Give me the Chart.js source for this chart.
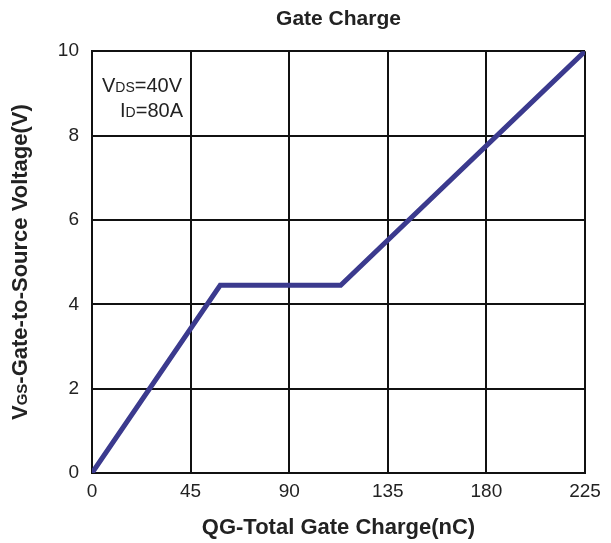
<!DOCTYPE html>
<html><head><meta charset="utf-8">
<script src="https://cdn.jsdelivr.net/npm/chart.js@4/dist/chart.umd.min.js"></script>
<style>html,body{margin:0;padding:0;background:#fff}#wrap{width:611px;height:543px;position:relative}</style>
</head><body><div id="wrap"><canvas id="c" width="611" height="543"></canvas></div>
<script>
const chartTitle = 'Gate Charge';
const xTitle = 'QG-Total Gate Charge(nC)';
const xTicks = [0, 45, 90, 135, 180, 225];
const yTicks = [0, 2, 4, 6, 8, 10];
const qg = [0, 58.5, 113.5, 225];
const vgs = [0, 4.45, 4.45, 10];
const FONT = '"Liberation Sans", Arial, sans-serif';
const TXT = '#222';

const textPlugin = {
  id: 'texts',
  afterDraw(chart) {
    const ctx = chart.ctx;
    ctx.save();
    ctx.fillStyle = TXT;
    function subText(parts, rightX, baseY) {
      let w = 0;
      parts.forEach(p => { ctx.font = p[1]; w += ctx.measureText(p[0]).width; });
      let x = rightX - w;
      ctx.textBaseline = 'alphabetic';
      ctx.textAlign = 'left';
      parts.forEach(p => { ctx.font = p[1]; ctx.fillText(p[0], x, baseY); x += ctx.measureText(p[0]).width; });
    }
    const big = '20px ' + FONT, small = '14px ' + FONT;
    subText([['V', big], ['DS', small], ['=40V', big]], 182, 92);
    subText([['I', big], ['D', small], ['=80A', big]], 183, 117);
    const yc = (chart.chartArea.top + chart.chartArea.bottom) / 2;
    ctx.translate(19, yc);
    ctx.rotate(-Math.PI / 2);
    const bb = 'bold 22px ' + FONT, bs = 'bold 15px ' + FONT;
    const parts = [['V', bb], ['GS', bs], ['-Gate-to-Source Voltage(V)', bb]];
    let w = 0;
    parts.forEach(p => { ctx.font = p[1]; w += ctx.measureText(p[0]).width; });
    let x = -w / 2;
    ctx.textBaseline = 'alphabetic';
    ctx.textAlign = 'left';
    parts.forEach(p => { ctx.font = p[1]; ctx.fillText(p[0], x, 8); x += ctx.measureText(p[0]).width; });
    ctx.restore();
  }
};

new Chart(document.getElementById('c'), {
  type: 'scatter',
  data: {
    datasets: [{
      data: qg.map((q, i) => ({x: q, y: vgs[i]})),
      showLine: true,
      borderColor: '#3b3a8e',
      borderWidth: 5,
      pointRadius: 0,
      borderJoinStyle: 'miter',
      fill: false
    }]
  },
  options: {
    responsive: false,
    animation: false,
    layout: {padding: {left: 0, right: 26, top: 0, bottom: 0}},
    plugins: {
      legend: {display: false},
      tooltip: {enabled: false},
      title: {display: true, fullSize: false, text: chartTitle, color: TXT,
        font: {family: FONT, size: 21, weight: 'bold'}, padding: {top: 7, bottom: 19}}
    },
    scales: {
      x: {
        type: 'linear', min: 0, max: 225,
        afterBuildTicks: s => { s.ticks = xTicks.map(v => ({value: v})); },
        afterFit: s => { s.height = 70; },
        grid: {color: '#111', lineWidth: 2, drawTicks: false},
        border: {color: '#111', width: 2},
        ticks: {color: TXT, font: {family: FONT, size: 19}, padding: 7, maxRotation: 0},
        title: {display: true, text: xTitle, color: TXT, font: {family: FONT, size: 22, weight: 'bold'}, padding: {top: 2, bottom: 2}}
      },
      y: {
        type: 'linear', min: 0, max: 10,
        afterBuildTicks: s => { s.ticks = yTicks.map(v => ({value: v})); },
        afterFit: s => { s.width = 92; },
        grid: {color: '#111', lineWidth: 2, drawTicks: false},
        border: {color: '#111', width: 2},
        ticks: {color: TXT, font: {family: FONT, size: 19}, padding: 13}
      }
    }
  },
  plugins: [textPlugin]
});
</script></body></html>
